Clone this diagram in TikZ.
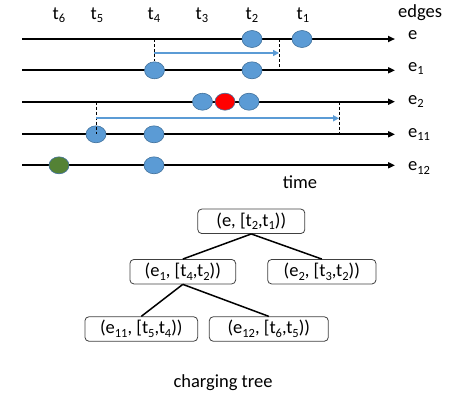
\documentclass[tikz,border=0pt]{standalone}
\usepackage{fontspec}
\setmainfont{Carlito}
\usetikzlibrary{arrows.meta,shapes.geometric}
\definecolor{dotblue}{HTML}{5B9BD5}
\definecolor{dotedge}{HTML}{41719C}
\definecolor{dotgreen}{HTML}{548235}
\definecolor{boxedge}{HTML}{404040}
\newcommand{\sbs}[1]{\raisebox{-3.6pt}{\fontsize{12.5}{13}\selectfont #1}}
\begin{document}
\begin{tikzpicture}[x=1pt,y=-1pt,
  font=\fontsize{18.5}{21}\selectfont,
  tline/.style={line width=2pt,-{Triangle[length=7pt,width=6pt]}},
  evt/.style={ellipse,draw=dotedge,line width=0.6pt,fill=dotblue,minimum width=20pt,minimum height=17pt,inner sep=0pt},
  evtred/.style={evt,fill=red},
  evtgreen/.style={evt,fill=dotgreen},
  dline/.style={dashed,line width=0.9pt,dash pattern=on 3pt off 2pt},
  span/.style={draw=dotblue,line width=2pt,-{Triangle[length=6pt,width=6pt]}},
  lbl/.style={anchor=base west,inner sep=0pt},
  tlbl/.style={anchor=base,inner sep=0pt},
  tbox/.style={draw=boxedge,line width=0.8pt,rounded corners=4pt,minimum height=24.5pt,inner xsep=6pt,inner ysep=0pt},
  tedge/.style={line width=1.5pt}]
\useasboundingbox (0,0) rectangle (457,400);

% timelines
\foreach \n/\y in {e/39,ea/70.3,eb/101.7,ec/134.3,ed/165.3}{
  \coordinate (\n S) at (22,\y);
  \coordinate (\n E) at (395,\y);
}
\foreach \n in {e,ea,eb,ec,ed}{\draw[tline] (\n S) -- (\n E);}

% labels
\node[lbl] (ledges) at (398,17.5) {edges};
\node[lbl] (le) at (408,39.5) {e};
\node[lbl] (lea) at (408,71) {e\sbs{1}};
\node[lbl] (leb) at (408,104) {e\sbs{2}};
\node[lbl] (lec) at (408,137) {e\sbs{11}};
\node[lbl] (led) at (408,170.5) {e\sbs{12}};
\node[tlbl] (ltime) at (300,188) {time};

\node[tlbl] (t6) at (59,19) {t\sbs{6}};
\node[tlbl] (t5) at (97,19) {t\sbs{5}};
\node[tlbl] (t4) at (154,19) {t\sbs{4}};
\node[tlbl] (t3) at (202,19) {t\sbs{3}};
\node[tlbl] (t2) at (252,19) {t\sbs{2}};
\node[tlbl] (t1) at (303,19) {t\sbs{1}};

% events
\node[evt] (d1) at (252,39) {};
\node[evt] (d2) at (302,39) {};
\node[evt] (d3) at (154.5,70.3) {};
\node[evt] (d4) at (252,70.3) {};
\node[evt] (d5) at (202.5,101.7) {};
\node[evtred] (d6) at (225,101.7) {};
\node[evt] (d7) at (249,101.7) {};
\node[evt] (d8) at (96,134.3) {};
\node[evt] (d9) at (154,134.3) {};
\node[evtgreen] (d10) at (59,165.3) {};
\node[evt] (d11) at (154,165.3) {};

% spans
\coordinate (a1) at (154,39);
\coordinate (a2) at (154,61);
\coordinate (a3) at (279,39);
\coordinate (a4) at (279,70.3);
\coordinate (a5) at (154,53);
\coordinate (a6) at (279,53);
\draw[dline] (a1) -- (a2);
\draw[dline] (a3) -- (a4);
\draw[span] (a5) -- (a6);

\coordinate (b1) at (96,101.7);
\coordinate (b2) at (96,134);
\coordinate (b3) at (339,101.7);
\coordinate (b4) at (339,134.3);
\coordinate (b5) at (96,118.3);
\coordinate (b6) at (339,118.3);
\draw[dline] (b1) -- (b2);
\draw[dline] (b3) -- (b4);
\draw[span] (b5) -- (b6);

% charging tree
\node[tbox,minimum width=107pt] (r) at (251.3,221.3) {(e, [t\sbs{2},t\sbs{1}))};
\node[tbox,minimum width=105.7pt] (n1) at (182.8,271.7) {(e\sbs{1}, [t\sbs{4},t\sbs{2}))};
\node[tbox,minimum width=108.3pt] (n2) at (321.8,271.7) {(e\sbs{2}, [t\sbs{3},t\sbs{2}))};
\node[tbox,minimum width=112.7pt] (n11) at (141.3,329) {(e\sbs{11}, [t\sbs{5},t\sbs{4}))};
\node[tbox,minimum width=119pt] (n12) at (268.8,329) {(e\sbs{12}, [t\sbs{6},t\sbs{5}))};
\draw[tedge] (r.south) -- (n1.north);
\draw[tedge] (r.south) -- (n2.north);
\draw[tedge] (n1.south) -- (n11.north);
\draw[tedge] (n1.south) -- (n12.north);
\node[tlbl] (cap) at (223,387) {charging tree};
\end{tikzpicture}
\end{document}
